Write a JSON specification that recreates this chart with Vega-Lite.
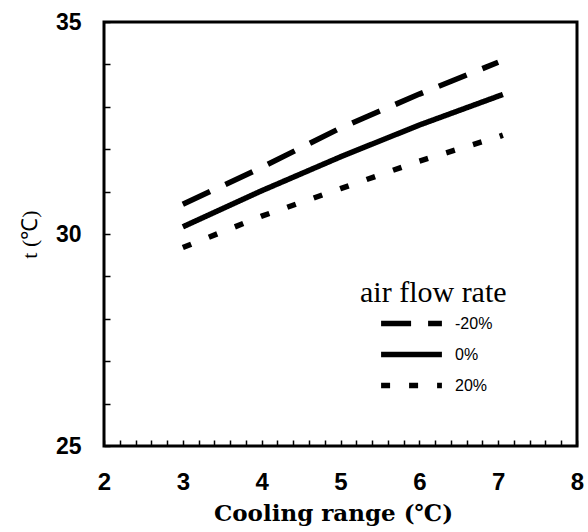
{
  "$schema": "https://vega.github.io/schema/vega-lite/v6.json",
  "width": 473,
  "height": 424,
  "autosize": {"type": "none"},
  "padding": {"left": 104, "top": 22, "right": 11, "bottom": 86},
  "background": "white",
  "config": {
    "view": {"stroke": "black", "strokeWidth": 3},
    "axis": {"grid": false, "ticks": true, "domain": false, "tickColor": "black", "labelColor": "black", "titleColor": "black"}
  },
  "data": {
    "values": [
      {"x": 3, "t": 30.7, "rate": "-20%"},
      {"x": 4, "t": 31.57, "rate": "-20%"},
      {"x": 5, "t": 32.5, "rate": "-20%"},
      {"x": 6, "t": 33.3, "rate": "-20%"},
      {"x": 7, "t": 34.05, "rate": "-20%"},
      {"x": 3, "t": 30.17, "rate": "0%"},
      {"x": 4, "t": 31.02, "rate": "0%"},
      {"x": 5, "t": 31.82, "rate": "0%"},
      {"x": 6, "t": 32.57, "rate": "0%"},
      {"x": 7, "t": 33.25, "rate": "0%"},
      {"x": 7.06, "t": 33.29, "rate": "0%"},
      {"x": 3, "t": 29.68, "rate": "20%"},
      {"x": 4, "t": 30.42, "rate": "20%"},
      {"x": 5, "t": 31.07, "rate": "20%"},
      {"x": 6, "t": 31.72, "rate": "20%"},
      {"x": 7, "t": 32.29, "rate": "20%"},
      {"x": 7.06, "t": 32.33, "rate": "20%"}
    ]
  },
  "mark": {"type": "line", "color": "black", "strokeWidth": 5.5, "strokeCap": "butt"},
  "encoding": {
    "x": {
      "field": "x", "type": "quantitative",
      "scale": {"domain": [2, 8], "nice": false, "zero": false},
      "axis": {
        "title": "Cooling range (℃)",
        "values": [2, 2.2, 2.4, 2.6, 2.8, 3, 3.2, 3.4, 3.6, 3.8, 4, 4.2, 4.4, 4.6, 4.8, 5, 5.2, 5.4, 5.6, 5.8, 6, 6.2, 6.4, 6.6, 6.8, 7, 7.2, 7.4, 7.6, 7.8, 8],
        "labelExpr": "datum.value % 1 === 0 ? format(datum.value, 'd') : ''",
        "labelOverlap": false,
        "labelFlush": false,
        "offset": -6,
        "tickSize": 6,
        "tickWidth": 1.5,
        "labelPadding": 24,
        "labelFont": "Liberation Sans",
        "labelFontSize": 24,
        "labelFontWeight": "bold",
        "titleFont": "DejaVu Serif",
        "titleFontSize": 23,
        "titleFontWeight": "bold",
        "titleX": 229,
        "titlePadding": 8
      }
    },
    "y": {
      "field": "t", "type": "quantitative",
      "scale": {"domain": [25, 35], "nice": false, "zero": false},
      "axis": {
        "title": "t (℃)",
        "values": [25, 26, 27, 28, 29, 30, 31, 32, 33, 34, 35],
        "labelExpr": "datum.value % 5 === 0 ? datum.label : ''",
        "labelOverlap": false,
        "labelFlush": false,
        "offset": -6,
        "tickSize": 6,
        "tickWidth": 1.5,
        "labelPadding": 23,
        "labelFont": "Liberation Sans",
        "labelFontSize": 23,
        "labelFontWeight": "bold",
        "titleFont": "Liberation Serif",
        "titleFontSize": 22,
        "titleFontWeight": "normal",
        "titlePadding": 14
      }
    },
    "strokeDash": {
      "field": "rate", "type": "nominal",
      "scale": {"domain": ["-20%", "0%", "20%"], "range": [[30, 17], [1, 0], [9, 19]]},
      "legend": {
        "title": "air flow rate",
        "orient": "none",
        "legendX": 256,
        "legendY": 256,
        "titleFont": "Liberation Serif",
        "titleFontSize": 30,
        "titleFontWeight": "normal",
        "titlePadding": 0,
        "symbolType": "stroke",
        "symbolSize": 3700,
        "symbolOffset": 18,
        "symbolStrokeWidth": 5.5,
        "symbolStrokeColor": "black",
        "clipHeight": 31,
        "labelFont": "Liberation Sans",
        "labelFontSize": 16,
        "labelOffset": 10,
        "rowPadding": 0,
        "padding": 0,
        "offset": 0
      }
    }
  }
}
